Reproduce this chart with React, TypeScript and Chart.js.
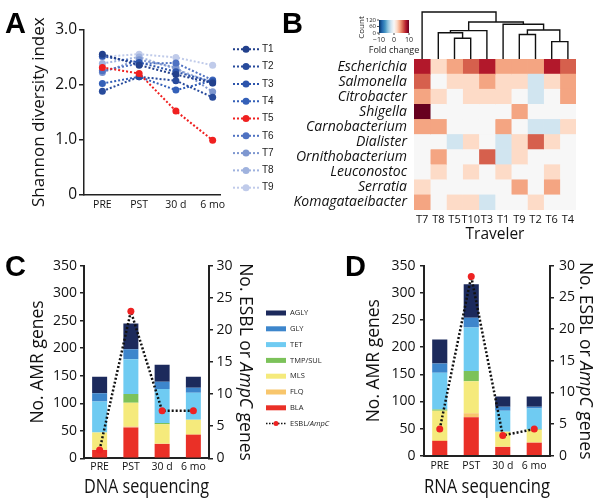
import React, { useEffect, useRef } from 'react';
import { Chart, registerables } from 'chart.js';

Chart.register(...registerables);

const SANS = '"Open Sans", "DejaVu Sans", sans-serif';
const ARIAL = '"Liberation Sans", Arial, sans-serif';
const AXIS = '#222222';
const TEXT = '#111111';

// ---------------- Panel A: Shannon diversity ----------------
const timepoints = ['PRE', 'PST', '30 d', '6 mo'];
const shannonTravelers = ['T1', 'T2', 'T3', 'T4', 'T5', 'T6', 'T7', 'T8', 'T9'];
const shannonT1 = [2.55, 2.35, 2.18, 2.03];
const shannonT2 = [1.88, 2.14, 2.07, 1.77];
const shannonT3 = [2.51, 2.4, 2.23, 2.05];
const shannonT4 = [2.02, 2.14, 1.9, 2.07];
const shannonT5 = [2.31, 2.2, 1.52, 0.99];
const shannonT6 = [2.25, 2.38, 2.39, 2.08];
const shannonT7 = [2.22, 2.45, 2.31, 1.87];
const shannonT8 = [2.38, 2.5, 2.28, 2.03];
const shannonT9 = [2.5, 2.55, 2.49, 2.35];
const shannonSeries = [shannonT1, shannonT2, shannonT3, shannonT4, shannonT5, shannonT6, shannonT7, shannonT8, shannonT9];
const shannonColors = ['#22408c', '#284b9c', '#2d55ac', '#3460b8', '#f02020', '#4f72c2', '#7e97d0', '#9fb2de', '#c0cbea'];
const shannonTicks = [0, 1, 2, 3];

// ---------------- Panel B: heatmap ----------------
const genera = ['Escherichia', 'Salmonella', 'Citrobacter', 'Shigella', 'Carnobacterium', 'Dialister', 'Ornithobacterium', 'Leuconostoc', 'Serratia', 'Komagataeibacter'];
const heatTravelers = ['T7', 'T8', 'T5', 'T10', 'T3', 'T1', 'T9', 'T2', 'T6', 'T4'];
const foldEscherichia = [8, 2, 4, 6, 8, 4, 4, 4, 8, 6];
const foldSalmonella = [6, 0, 2, 2, 4, 2, 2, -2, 2, 4];
const foldCitrobacter = [4, 2, 0, 2, 2, 2, 0, -2, 0, 4];
const foldShigella = [10, 0, 0, 0, 0, 0, 4, 0, 0, 0];
const foldCarnobacterium = [4, 4, 0, 0, 0, 4, 0, -2, -2, 2];
const foldDialister = [0, 0, -2, 2, 0, -2, 2, 6, 2, 0];
const foldOrnithobacterium = [0, 4, 0, 0, 6, -2, 2, 0, 0, 0];
const foldLeuconostoc = [0, 2, 0, 2, 0, 2, 0, 0, 2, 0];
const foldSerratia = [2, 0, 0, 0, 0, 0, 4, 0, 4, 0];
const foldKomagataeibacter = [4, 0, 2, 2, -2, 0, 0, 2, 0, 0];
const foldChange = [foldEscherichia, foldSalmonella, foldCitrobacter, foldShigella, foldCarnobacterium, foldDialister, foldOrnithobacterium, foldLeuconostoc, foldSerratia, foldKomagataeibacter];
const foldStopValues = [-10, -8, -6, -4, -2, 0, 2, 4, 6, 8, 10];
const foldStopColors = ['#053061', '#2166ac', '#4393c3', '#92c5de', '#d1e5f0', '#f7f7f7', '#fddbc7', '#f4a582', '#d6604d', '#b2182b', '#67001f'];
const foldTicks = [-10, 0, 10];
const countTicks = [0, 60, 120];
// dendrogram linkage (leaf indices follow heatTravelers order; new clusters numbered from 10)
const dendroLeft = [8, 2, 6, 1, 13, 12, 5, 14, 0];
const dendroRight = [9, 3, 7, 11, 4, 10, 15, 16, 17];
const dendroDistance = [3.7, 4.4, 5.2, 5.6, 6.03, 6.17, 7.38, 7.87, 10];

// ---------------- Panels C & D: AMR genes ----------------
const amrClasses = ['BLA', 'FLQ', 'MLS', 'TMP/SUL', 'TET', 'GLY', 'AGLY']; // bottom -> top
const amrColors = ['#ea3027', '#f8c66c', '#f5ea7c', '#7cc25a', '#6fcbf2', '#3d86cc', '#1c2a5c'];
const dnaBLA = [15, 56, 26, 43];
const dnaFLQ = [1, 2, 1, 1];
const dnaMLS = [31, 43, 35, 26];
const dnaTMP = [0, 16, 2, 0];
const dnaTET = [56, 63, 62, 49];
const dnaGLY = [15, 18, 13, 9];
const dnaAGLY = [30, 47, 31, 20];
const dnaESBL = [1.3, 22.9, 7.4, 7.4];
const rnaBLA = [27, 71, 16, 24];
const rnaFLQ = [2, 7, 1, 1];
const rnaMLS = [54, 59, 27, 23];
const rnaTMP = [2, 19, 0, 1];
const rnaTET = [68, 80, 39, 38];
const rnaGLY = [17, 18, 7, 3];
const rnaAGLY = [44, 62, 19, 19];
const rnaESBL = [4.2, 28.3, 3.2, 4.2];
const dnaCounts = [dnaBLA, dnaFLQ, dnaMLS, dnaTMP, dnaTET, dnaGLY, dnaAGLY];
const rnaCounts = [rnaBLA, rnaFLQ, rnaMLS, rnaTMP, rnaTET, rnaGLY, rnaAGLY];

// ---------------- helpers ----------------
function hexToRgb(h: string) {
  return [parseInt(h.slice(1, 3), 16), parseInt(h.slice(3, 5), 16), parseInt(h.slice(5, 7), 16)];
}
function foldColor(v: number) {
  const vv = Math.max(-10, Math.min(10, v));
  for (let i = 0; i < foldStopValues.length - 1; i++) {
    if (vv <= foldStopValues[i + 1]) {
      const t = (vv - foldStopValues[i]) / (foldStopValues[i + 1] - foldStopValues[i]);
      const a = hexToRgb(foldStopColors[i]);
      const b = hexToRgb(foldStopColors[i + 1]);
      const c = a.map((x, k) => Math.round(x + (b[k] - x) * t));
      return `rgb(${c[0]},${c[1]},${c[2]})`;
    }
  }
  return foldStopColors[foldStopColors.length - 1];
}

function letterPlugin(letter: string, x: number, y: number) {
  return {
    id: 'letter' + letter,
    afterDraw(chart: any) {
      const ctx = chart.ctx;
      ctx.save();
      ctx.font = `bold 29px ${ARIAL}`;
      ctx.fillStyle = '#000';
      ctx.textAlign = 'left';
      ctx.textBaseline = 'alphabetic';
      ctx.fillText(letter, x, y);
      ctx.restore();
    },
  };
}

function drawMixed(ctx: any, parts: { t: string; i?: boolean }[], size: number, x: number, y: number, align: 'left' | 'center') {
  const fonts = parts.map((p) => `${p.i ? 'italic ' : ''}${size}px ${SANS}`);
  const widths = parts.map((p, k) => {
    ctx.font = fonts[k];
    return ctx.measureText(p.t).width;
  });
  const total = widths.reduce((a, b) => a + b, 0);
  let cx = align === 'center' ? x - total / 2 : x;
  ctx.textAlign = 'left';
  parts.forEach((p, k) => {
    ctx.font = fonts[k];
    ctx.fillText(p.t, cx, y);
    cx += widths[k];
  });
}

const legendAPlugin = {
  id: 'legendA',
  afterDraw(chart: any) {
    const ctx = chart.ctx;
    ctx.save();
    chart.data.datasets.forEach((ds: any, i: number) => {
      const y = 49.3 + i * 17.3;
      ctx.strokeStyle = ds.borderColor;
      ctx.lineWidth = 2;
      ctx.setLineDash([2, 2]);
      ctx.beginPath();
      ctx.moveTo(233, y);
      ctx.lineTo(259, y);
      ctx.stroke();
      ctx.setLineDash([]);
      ctx.fillStyle = ds.borderColor;
      ctx.beginPath();
      ctx.arc(246, y, 3.5, 0, Math.PI * 2);
      ctx.fill();
      ctx.fillStyle = '#222';
      ctx.font = `10px ${ARIAL}`;
      ctx.textBaseline = 'middle';
      ctx.textAlign = 'left';
      ctx.fillText(ds.label, 262, y);
    });
    ctx.restore();
  },
};

const heatDecorPlugin = {
  id: 'heatDecor',
  afterDraw(chart: any) {
    const ctx = chart.ctx;
    const xs = chart.scales.x;
    const top = chart.chartArea.top;
    const maxD = Math.max(...dendroDistance);
    const k = (top - 12) / maxD;
    const nodeX: number[] = heatTravelers.map((_, i) => xs.getPixelForValue(i + 0.5));
    const nodeY: number[] = heatTravelers.map(() => top);
    ctx.save();
    ctx.strokeStyle = '#111';
    ctx.lineWidth = 1.4;
    dendroLeft.forEach((a, m) => {
      const b = dendroRight[m];
      const y = top - dendroDistance[m] * k;
      ctx.beginPath();
      ctx.moveTo(nodeX[a], nodeY[a]);
      ctx.lineTo(nodeX[a], y);
      ctx.lineTo(nodeX[b], y);
      ctx.lineTo(nodeX[b], nodeY[b]);
      ctx.stroke();
      nodeX.push((nodeX[a] + nodeX[b]) / 2);
      nodeY.push(y);
    });
    // colour bar
    const cbL = 99, cbR = 129, cbT = 20, cbB = 33;
    const g = ctx.createLinearGradient(cbL, 0, cbR, 0);
    foldStopValues.forEach((v, i) => g.addColorStop((v + 10) / 20, foldStopColors[i]));
    ctx.fillStyle = g;
    ctx.fillRect(cbL, cbT, cbR - cbL, cbB - cbT);
    ctx.fillStyle = '#222';
    ctx.strokeStyle = '#222';
    ctx.lineWidth = 0.8;
    ctx.font = `6px ${SANS}`;
    ctx.textAlign = 'right';
    ctx.textBaseline = 'middle';
    countTicks.forEach((c) => {
      const y = cbB - (c / 120) * (cbB - cbT);
      ctx.beginPath();
      ctx.moveTo(cbL - 2, y);
      ctx.lineTo(cbL, y);
      ctx.stroke();
      ctx.fillText(String(c), cbL - 3, y);
    });
    ctx.font = `7px ${SANS}`;
    ctx.textAlign = 'center';
    ctx.textBaseline = 'top';
    foldTicks.forEach((v) => {
      const x = cbL + ((v + 10) / 20) * (cbR - cbL);
      ctx.beginPath();
      ctx.moveTo(x, cbB);
      ctx.lineTo(x, cbB + 2);
      ctx.stroke();
      ctx.fillText(v < 0 ? '\u2212' + Math.abs(v) : String(v), x, cbB + 3);
    });
    ctx.font = `9px ${SANS}`;
    ctx.textBaseline = 'middle';
    ctx.fillText('Fold change', (cbL + cbR) / 2, 50);
    ctx.save();
    ctx.translate(82, (cbT + cbB) / 2 + 1);
    ctx.rotate(-Math.PI / 2);
    ctx.font = `8px ${SANS}`;
    ctx.fillText('Count', 0, 0);
    ctx.restore();
    ctx.restore();
  },
};

function rightTitlePlugin(offset: number) {
  return {
    id: 'rightTitle',
    afterDraw(chart: any) {
      const ctx = chart.ctx;
      const ca = chart.chartArea;
      ctx.save();
      ctx.translate(ca.right + offset, (ca.top + ca.bottom) / 2);
      ctx.rotate(Math.PI / 2);
      ctx.fillStyle = TEXT;
      ctx.textBaseline = 'middle';
      drawMixed(ctx, [{ t: 'No. ESBL or ' }, { t: 'AmpC', i: true }, { t: ' genes' }], 17.5, 0, 0, 'center');
      ctx.restore();
    },
  };
}

const amrLegendPlugin = {
  id: 'amrLegend',
  afterDraw(chart: any) {
    const ctx = chart.ctx;
    ctx.save();
    const x0 = 266, x1 = 286, tx = 290;
    const order = amrClasses.map((_, i) => amrClasses.length - 1 - i);
    order.forEach((ci, row) => {
      const y = 63 + row * 15.8;
      ctx.fillStyle = amrColors[ci];
      ctx.fillRect(x0, y - 2.5, x1 - x0, 5);
      ctx.fillStyle = '#222';
      ctx.font = `7.5px ${SANS}`;
      ctx.textBaseline = 'middle';
      ctx.textAlign = 'left';
      ctx.fillText(amrClasses[ci], tx, y);
    });
    const y = 63 + amrClasses.length * 15.8;
    ctx.strokeStyle = '#111';
    ctx.lineWidth = 1.5;
    ctx.setLineDash([1.5, 1.5]);
    ctx.beginPath();
    ctx.moveTo(x0, y);
    ctx.lineTo(x1, y);
    ctx.stroke();
    ctx.setLineDash([]);
    ctx.fillStyle = '#ee2222';
    ctx.beginPath();
    ctx.arc((x0 + x1) / 2, y, 2.5, 0, Math.PI * 2);
    ctx.fill();
    ctx.fillStyle = '#222';
    ctx.textBaseline = 'middle';
    drawMixed(ctx, [{ t: 'ESBL/' }, { t: 'AmpC', i: true }], 7.5, tx, y, 'left');
    ctx.restore();
  },
};

function makeAmr(canvas: HTMLCanvasElement, counts: number[][], esbl: number[], cfg: any) {
  return new Chart(canvas, {
    type: 'bar',
    data: {
      labels: timepoints,
      datasets: [
        {
          type: 'line',
          label: 'ESBL/AmpC',
          data: esbl,
          yAxisID: 'y1',
          borderColor: '#111',
          borderWidth: 2.5,
          borderDash: [2, 2],
          pointBackgroundColor: '#ee2222',
          pointBorderWidth: 0,
          pointRadius: 3.5,
          pointHoverRadius: 3.5,
          order: 0,
        } as any,
        ...amrClasses.map((c, k) => ({
          type: 'bar',
          label: c,
          data: counts[k],
          backgroundColor: amrColors[k],
          yAxisID: 'y',
          stack: 'amr',
          barPercentage: 0.48,
          categoryPercentage: 1,
          borderWidth: 0,
          order: 1,
        })),
      ],
    },
    options: {
      responsive: false,
      animation: false,
      layout: { padding: { left: 0, right: cfg.padRight, top: 15.7, bottom: 0 } },
      plugins: { legend: { display: false }, tooltip: { enabled: false } },
      scales: {
        x: {
          stacked: true,
          ticks: { font: { size: 10.5, family: SANS }, color: TEXT, padding: cfg.xPad, maxRotation: 0 },
          grid: { display: false, drawTicks: false },
          border: { color: AXIS, width: 2 },
          title: { display: true, text: cfg.title, color: TEXT, font: { size: 19.5, family: SANS }, padding: { top: 0, bottom: 5 } },
          afterFit: (s: any) => { s.height = cfg.xHeight; },
        },
        y: {
          stacked: true,
          min: 0,
          max: 350,
          ticks: { stepSize: 50, font: { size: 14, family: SANS }, color: TEXT, padding: cfg.yPad },
          grid: { drawOnChartArea: false, tickLength: 4, color: AXIS, lineWidth: 1.5 },
          border: { color: AXIS, width: 2 },
          title: { display: true, text: 'No. AMR genes', color: TEXT, font: { size: 17.5, family: SANS }, padding: { top: cfg.titlePad, bottom: 0 } },
          afterFit: (s: any) => { s.width = 84; },
        },
        y1: {
          position: 'right',
          min: 0,
          max: 30,
          ticks: { stepSize: 5, font: { size: 14, family: SANS }, color: TEXT, padding: cfg.y1Pad },
          grid: { drawOnChartArea: false, tickLength: 4, color: AXIS, lineWidth: 1.5 },
          border: { color: AXIS, width: 2 },
          afterFit: (s: any) => { s.width = 50; },
        },
      },
    } as any,
    plugins: cfg.plugins,
  });
}

export default function App() {
  const refA = useRef<HTMLCanvasElement>(null);
  const refB = useRef<HTMLCanvasElement>(null);
  const refC = useRef<HTMLCanvasElement>(null);
  const refD = useRef<HTMLCanvasElement>(null);

  useEffect(() => {
    Chart.defaults.font.family = SANS;
    const charts: Chart[] = [];

    charts.push(
      new Chart(refA.current!, {
        type: 'line',
        data: {
          datasets: shannonSeries.map((vals, i) => ({
            label: shannonTravelers[i],
            data: vals.map((v, j) => ({ x: j, y: v })),
            borderColor: shannonColors[i],
            backgroundColor: shannonColors[i],
            borderWidth: 2,
            borderDash: [2, 2],
            pointRadius: 3.5,
            pointHoverRadius: 3.5,
            pointBorderWidth: 0,
            tension: 0,
            order: shannonTravelers[i] === 'T5' ? -1 : i,
          })),
        },
        options: {
          responsive: false,
          animation: false,
          layout: { padding: { left: 0, right: 60, top: 29.3, bottom: 0 } },
          plugins: { legend: { display: false }, tooltip: { enabled: false } },
          scales: {
            x: {
              type: 'linear',
              min: -0.5,
              max: 3.2,
              afterBuildTicks: (s: any) => { s.ticks = timepoints.map((_, i) => ({ value: i })); },
              ticks: { callback: (v: any) => timepoints[v] ?? '', font: { size: 10.5, family: SANS }, color: TEXT, padding: 4, maxRotation: 0, autoSkip: false },
              grid: { display: false, drawTicks: false },
              border: { color: AXIS, width: 1.5 },
              afterFit: (s: any) => { s.height = 55; },
            },
            y: {
              min: 0,
              max: 3,
              afterBuildTicks: (s: any) => { s.ticks = shannonTicks.map((v) => ({ value: v })); },
              ticks: { callback: (v: any) => (v === 0 ? '0' : Number(v).toFixed(1)), font: { size: 15.5, family: SANS }, color: TEXT, padding: 2 },
              grid: { drawOnChartArea: false, tickLength: 5, color: AXIS, lineWidth: 1.5 },
              border: { color: AXIS, width: 1.5 },
              title: { display: true, text: 'Shannon diversity index', color: TEXT, font: { size: 17, family: SANS }, padding: { top: 29, bottom: 0 } },
              afterFit: (s: any) => { s.width = 84; },
            },
          },
        } as any,
        plugins: [letterPlugin('A', 5, 33), legendAPlugin],
      })
    );

    charts.push(
      new Chart(refB.current!, {
        type: 'bar',
        data: {
          labels: genera,
          datasets: heatTravelers.map((t, j) => ({
            label: t,
            data: genera.map(() => 1),
            backgroundColor: genera.map((_, r) => foldColor(foldChange[r][j])),
            borderWidth: 0,
            barPercentage: 1,
            categoryPercentage: 1,
          })),
        },
        options: {
          indexAxis: 'y',
          responsive: false,
          animation: false,
          layout: { padding: { left: 0, right: 24, top: 59, bottom: 0 } },
          plugins: { legend: { display: false }, tooltip: { enabled: false } },
          scales: {
            x: {
              stacked: true,
              min: 0,
              max: 10,
              afterBuildTicks: (s: any) => { s.ticks = heatTravelers.map((_, i) => ({ value: i + 0.5 })); },
              ticks: { callback: (v: any) => heatTravelers[Math.floor(v)], font: { size: 11, family: SANS }, color: TEXT, padding: 3, maxRotation: 0, autoSkip: false },
              grid: { display: false, drawTicks: false },
              border: { display: false },
              title: { display: true, text: 'Traveler', color: TEXT, font: { size: 15.5, family: SANS }, padding: { top: 0, bottom: 6 } },
              afterFit: (s: any) => { s.height = 40; },
            },
            y: {
              stacked: true,
              ticks: { font: { size: 14, style: 'italic', family: SANS }, color: TEXT, padding: 7, autoSkip: false },
              grid: { display: false, drawTicks: false },
              border: { display: false },
              afterFit: (s: any) => { s.width = 134; },
            },
          },
        } as any,
        plugins: [letterPlugin('B', 2, 33), heatDecorPlugin],
      })
    );

    charts.push(
      makeAmr(refC.current!, dnaCounts, dnaESBL, {
        title: 'DNA sequencing',
        padRight: 81,
        xHeight: 45.7,
        xPad: 2,
        yPad: 3,
        y1Pad: 3.5,
        titlePad: 27.5,
        plugins: [letterPlugin('C', 5, 26), rightTitlePlugin(36), amrLegendPlugin],
      })
    );
    charts.push(
      makeAmr(refD.current!, rnaCounts, rnaESBL, {
        title: 'RNA sequencing',
        padRight: 0,
        xHeight: 48.3,
        xPad: 4,
        yPad: 4.5,
        y1Pad: 5,
        titlePad: 23.5,
        plugins: [letterPlugin('D', 5, 26), rightTitlePlugin(35)],
      })
    );

    return () => charts.forEach((c) => c.destroy());
  }, []);

  const abs = (left: number, top: number): React.CSSProperties => ({ position: 'absolute', left, top });
  return (
    <div style={{ position: 'absolute', left: 0, top: 0, width: 600, height: 504, background: '#fff', overflow: 'hidden' }}>
      <canvas ref={refA} width={280} height={250} style={abs(0, 0)} />
      <canvas ref={refB} width={320} height={250} style={abs(280, 0)} />
      <canvas ref={refC} width={340} height={254} style={abs(0, 250)} />
      <canvas ref={refD} width={260} height={254} style={abs(340, 250)} />
    </div>
  );
}
